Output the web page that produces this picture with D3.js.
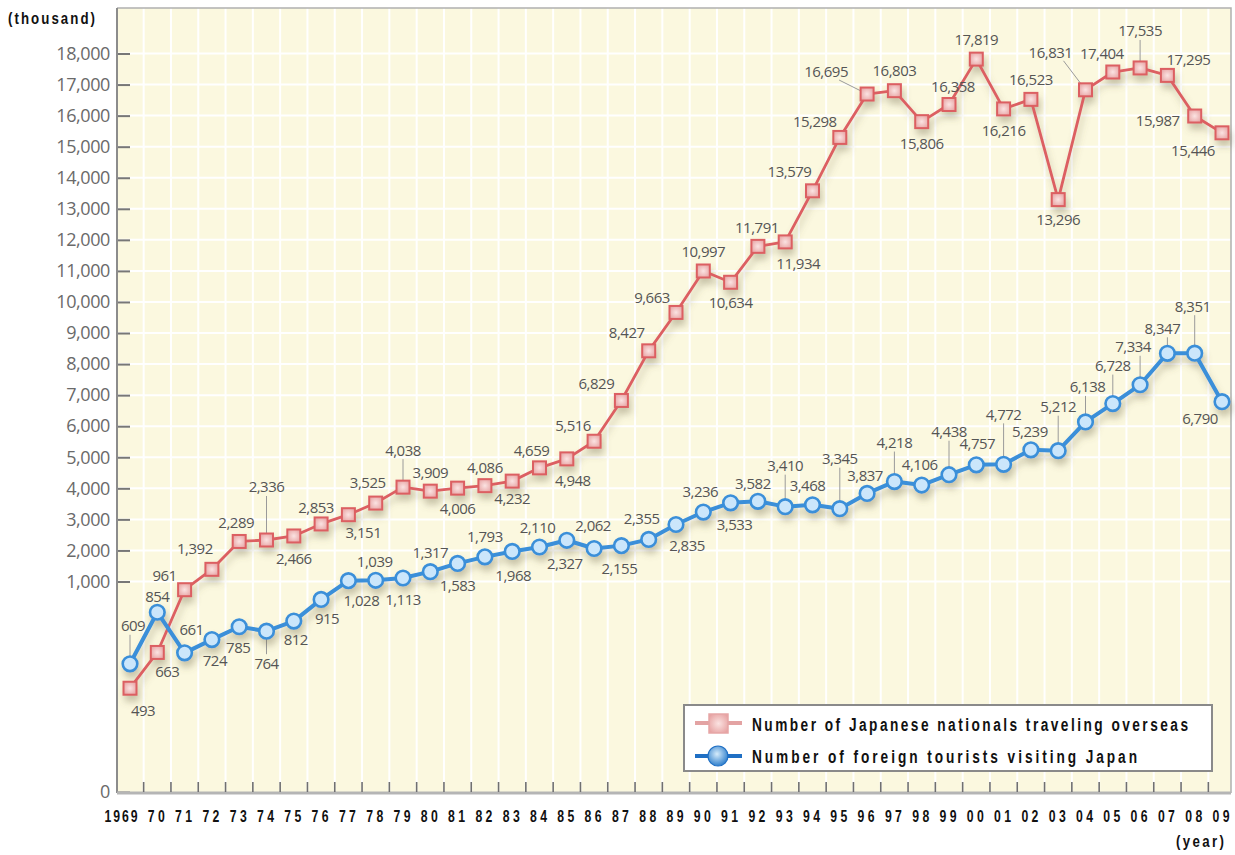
<!DOCTYPE html>
<html>
<head>
<meta charset="utf-8">
<script src="https://cdn.jsdelivr.net/npm/d3@7"></script>
<style>
  html, body { margin: 0; padding: 0; background: #ffffff; }
  svg { display: block; }
</style>
</head>
<body>
<svg id="chart" width="1235" height="855"></svg>
<script>
// ---------------- DATA ----------------
const years = ["1969","70","71","72","73","74","75","76","77","78","79","80","81","82","83","84","85","86","87","88","89","90","91","92","93","94","95","96","97","98","99","00","01","02","03","04","05","06","07","08","09"];

const japaneseOverseas = [493,663,961,1392,2289,2336,2466,2853,3151,3525,4038,3909,4006,4086,4232,4659,4948,5516,6829,8427,9663,10997,10634,11791,11934,13579,15298,16695,16803,15806,16358,17819,16216,16523,13296,16831,17404,17535,17295,15987,15446];

const foreignVisitors = [609,854,661,724,785,764,812,915,1028,1039,1113,1317,1583,1793,1968,2110,2327,2062,2155,2355,2835,3236,3533,3582,3410,3468,3345,3837,4218,4106,4438,4757,4772,5239,5212,6138,6728,7334,8347,8351,6790];

const yTickValues = [0,1000,2000,3000,4000,5000,6000,7000,8000,9000,10000,11000,12000,13000,14000,15000,16000,17000,18000];

const seriesNames = ["Number of Japanese nationals traveling overseas", "Number of foreign tourists visiting Japan"];

// label placement relative to each point: [dx, dy, leader]
const jpLabelPos = [[13,22,0],[10,19,0],[-20,-14,0],[-17,-21,0],[-3,-19,0],[0,-53,1],[0,23,0],[-5,-16,0],[15,18,0],[-8,-20,0],
  [0,-37,1],[0,-19,0],[0,20,0],[0,-18,0],[0,17,0],[-8,-17,0],[6,22,0],[-21,-16,0],[-25,-17,0],[-22,-18,0],
  [-24,-15,0],[0,-19,0],[0,20,0],[-1,-19,0],[13,22,0],[-23,-19,0],[-25,-16,0],[-41,-22,1],[0,-20,0],[0,22,0],
  [4,-18,0],[0,-20,0],[0,22,0],[0,-20,0],[0,20,0],[-35,-37,1],[-11,-18,0],[0,-37,1],[21,-16,0],[-37,5,0],[-29,18,0]];
const frLabelPos = [[3,-38,1],[0,-16,0],[7,-23,0],[3,21,0],[-1,21,0],[0,32,1],[2,19,0],[6,19,0],[13,20,0],[-1,-19,0],
  [0,22,0],[0,-19,0],[0,22,0],[0,-20,0],[1,24,0],[-2,-19,0],[-2,23,0],[-1,-23,0],[-2,23,0],[-7,-21,0],
  [11,21,0],[-3,-20,0],[4,22,0],[-5,-18,0],[0,-41,1],[-5,-19,0],[0,-50,1],[-2,-18,0],[0,-39,1],[-2,-20,0],
  [0,-43,1],[1,-21,0],[0,-50,1],[-1,-18,0],[0,-44,1],[2,-35,1],[0,-38,1],[-7,-38,1],[-5,-25,1],[-2,-47,1],[-22,17,0]];

// ---------------- LAYOUT ----------------
const svg = d3.select("#chart");
const plot = {left: 117, right: 1231, top: 8, bottom: 793};

const x = d3.scaleBand().domain(years).range([116.35, 1235.65]).padding(0);
const cx = d => x(d) + x.bandwidth() / 2;
const y = d3.scaleLinear().domain([0, 1000, 18000]).range([792, 581.5, 53.5]);

const C = {
  bg: "#fbf8df", grid: "#ffffff", axis: "#8c8c8c",
  red: "#dc5f62", redFill: "#f3c9c8",
  blue: "#3a8fd9", blueFill: "#cbe6fb",
  label: "#555555", tick: "#6a6a6a"
};
const gothic = "'Liberation Sans', Arial, sans-serif";

// narrow, letter-spaced bold text (horizontal squeeze + fixed target width)
function narrowText(sel, px, py, width, anchor, size, sx) {
  sel.attr("transform", `translate(${px},${py}) scale(${sx},1)`)
    .attr("x", 0).attr("y", 0)
    .attr("text-anchor", anchor)
    .attr("textLength", width / sx).attr("lengthAdjust", "spacing")
    .style("font-family", gothic).style("font-weight", "bold").style("font-size", size + "px")
    .attr("fill", "#111");
  return sel;
}

const defs = svg.append("defs");
const f = defs.append("filter").attr("id", "shadow").attr("x", "-10%").attr("y", "-10%").attr("width", "130%").attr("height", "130%");
f.append("feDropShadow").attr("dx", 2).attr("dy", 6).attr("stdDeviation", 3.5)
  .attr("flood-color", "#6b6440").attr("flood-opacity", 0.35);

const rg = defs.append("radialGradient").attr("id", "bball").attr("cx", "45%").attr("cy", "40%").attr("r", "60%");
rg.append("stop").attr("offset", "0%").attr("stop-color", "#d6ecfb");
rg.append("stop").attr("offset", "100%").attr("stop-color", "#2f7fcc");
const sg = defs.append("radialGradient").attr("id", "sq").attr("cx", "50%").attr("cy", "50%").attr("r", "60%");
sg.append("stop").attr("offset", "0%").attr("stop-color", "#fbe3e2");
sg.append("stop").attr("offset", "100%").attr("stop-color", "#e7a3a3");

// background
svg.append("rect").attr("x", plot.left).attr("y", plot.top)
  .attr("width", plot.right - plot.left).attr("height", plot.bottom - plot.top)
  .attr("fill", C.bg);

// vertical gridlines at band boundaries
const gridG = svg.append("g");
gridG.selectAll("line.v").data(years.slice(1)).join("line")
  .attr("x1", d => x(d)).attr("x2", d => x(d))
  .attr("y1", plot.top).attr("y2", plot.bottom)
  .attr("stroke", C.grid).attr("stroke-width", 2);
// horizontal gridlines 1,000 .. 18,000
gridG.selectAll("line.h").data(yTickValues.filter(v => v >= 1000)).join("line")
  .attr("x1", plot.left).attr("x2", plot.right)
  .attr("y1", d => y(d)).attr("y2", d => y(d))
  .attr("stroke", C.grid).attr("stroke-width", 2);

// border (top, right)
svg.append("path")
  .attr("d", `M${plot.left},${plot.top}H${plot.right}V${plot.bottom}`)
  .attr("fill", "none").attr("stroke", "#b0b0b0").attr("stroke-width", 1.5);

// y axis
const yAxis = d3.axisLeft(y).tickValues(yTickValues).tickFormat(d3.format(",")).tickSize(-13).tickPadding(7);
const yg = svg.append("g").attr("transform", `translate(${plot.left},0)`).call(yAxis);
yg.select(".domain").remove();
yg.selectAll(".tick line").attr("stroke", "#777").attr("stroke-width", 2);
yg.selectAll(".tick text").attr("fill", C.tick)
  .style("font-family", "'Open Sans', 'Noto Sans', sans-serif").style("font-size", "18px")
  .style("letter-spacing", "-0.4px");
svg.append("line").attr("x1", plot.left).attr("x2", plot.left).attr("y1", plot.top).attr("y2", plot.bottom)
  .attr("stroke", C.axis).attr("stroke-width", 2);

// x axis line and ticks
svg.append("line").attr("x1", plot.left).attr("x2", plot.right).attr("y1", plot.bottom).attr("y2", plot.bottom)
  .attr("stroke", "#b5b5b5").attr("stroke-width", 3);
svg.append("g").selectAll("line").data(years.slice(1)).join("line")
  .attr("x1", d => x(d)).attr("x2", d => x(d)).attr("y1", plot.bottom - 11).attr("y2", plot.bottom - 1)
  .attr("stroke", "#707070").attr("stroke-width", 1.6);
svg.append("g").selectAll("text").data(years).join("text")
  .each(function (d) {
    narrowText(d3.select(this), cx(d) + 7.5, 822, d.length === 4 ? 33 : 17, "end", 17, 0.72);
  })
  .text(d => d);

// axis titles
narrowText(svg.append("text"), 8, 24, 87, "start", 17, 0.78).text("(thousand)");
narrowText(svg.append("text"), 1176, 847, 48, "start", 17, 0.78).text("(year)");

// ---------------- SERIES ----------------
const line = d3.line().x((d, i) => cx(years[i])).y(d => y(d));

function drawLeaders(values, pos, g) {
  values.forEach((v, i) => {
    const p = pos[i];
    if (!p[2]) return;
    const px = cx(years[i]), py = y(v);
    const lx = px + p[0], ly = py + p[1];
    const s = p[1] < 0 ? 1 : -1;
    if (Math.abs(p[0]) < 12) {
      g.append("line").attr("x1", px).attr("x2", px)
        .attr("y1", ly + s * 9).attr("y2", py)
        .attr("stroke", "#9a9a9a").attr("stroke-width", 1);
    } else {
      const sx = lx + Math.sign(-p[0]) * 13;
      g.append("line").attr("x1", sx).attr("x2", px)
        .attr("y1", ly + 8).attr("y2", py)
        .attr("stroke", "#9a9a9a").attr("stroke-width", 1);
    }
  });
}

const leaderG = svg.append("g");
drawLeaders(japaneseOverseas, jpLabelPos, leaderG);
drawLeaders(foreignVisitors, frLabelPos, leaderG);

const seriesG = svg.append("g").attr("filter", "url(#shadow)");

// Japanese overseas (red, squares)
seriesG.append("path").datum(japaneseOverseas).attr("d", line)
  .attr("fill", "none").attr("stroke", C.red).attr("stroke-width", 2.8).attr("stroke-linejoin", "round");
// foreign (blue, circles)
seriesG.append("path").datum(foreignVisitors).attr("d", line)
  .attr("fill", "none").attr("stroke", C.blue).attr("stroke-width", 4).attr("stroke-linejoin", "round");

seriesG.append("g").selectAll("rect").data(japaneseOverseas).join("rect")
  .attr("x", (d, i) => cx(years[i]) - 6.5).attr("y", d => y(d) - 6.5)
  .attr("width", 13).attr("height", 13)
  .attr("fill", "url(#sq)").attr("stroke", C.red).attr("stroke-width", 2);
seriesG.append("g").selectAll("circle").data(foreignVisitors).join("circle")
  .attr("cx", (d, i) => cx(years[i])).attr("cy", d => y(d)).attr("r", 7.3)
  .attr("fill", C.blueFill).attr("stroke", C.blue).attr("stroke-width", 2.6);

// value labels
const fmt = d3.format(",");
function drawLabels(values, pos) {
  svg.append("g").selectAll("text").data(values).join("text")
    .attr("x", (d, i) => cx(years[i]) + pos[i][0])
    .attr("y", (d, i) => y(d) + pos[i][1])
    .attr("dy", "0.36em").attr("text-anchor", "middle")
    .style("font-family", "'Open Sans', 'Noto Sans', sans-serif").style("font-size", "15px")
    .style("letter-spacing", "-0.5px")
    .attr("fill", C.label).text(d => fmt(d));
}
drawLabels(japaneseOverseas, jpLabelPos);
drawLabels(foreignVisitors, frLabelPos);

// ---------------- LEGEND ----------------
const lg = svg.append("g");
lg.append("rect").attr("x", 684).attr("y", 705).attr("width", 528).attr("height", 66)
  .attr("fill", "#ffffff").attr("stroke", "#8a8a8a").attr("stroke-width", 2);
lg.append("line").attr("x1", 695).attr("x2", 742).attr("y1", 723).attr("y2", 723)
  .attr("stroke", "#e3a3a3").attr("stroke-width", 4);
lg.append("rect").attr("x", 709).attr("y", 714).attr("width", 19).attr("height", 19)
  .attr("fill", "url(#sq)").attr("stroke", "#e6a6a6").attr("stroke-width", 1.5);
lg.append("line").attr("x1", 695).attr("x2", 742).attr("y1", 756).attr("y2", 756)
  .attr("stroke", "#1f6fc4").attr("stroke-width", 4);
lg.append("circle").attr("cx", 718).attr("cy", 756).attr("r", 10)
  .attr("fill", "url(#bball)").attr("stroke", "#1f6fc4").attr("stroke-width", 1.2);
lg.selectAll("text").data(seriesNames).join("text")
  .each(function (d, i) {
    narrowText(d3.select(this), 752, 731 + i * 32, i === 0 ? 436 : 385, "start", 19, 0.72);
  })
  .text(d => d);
</script>
</body>
</html>
